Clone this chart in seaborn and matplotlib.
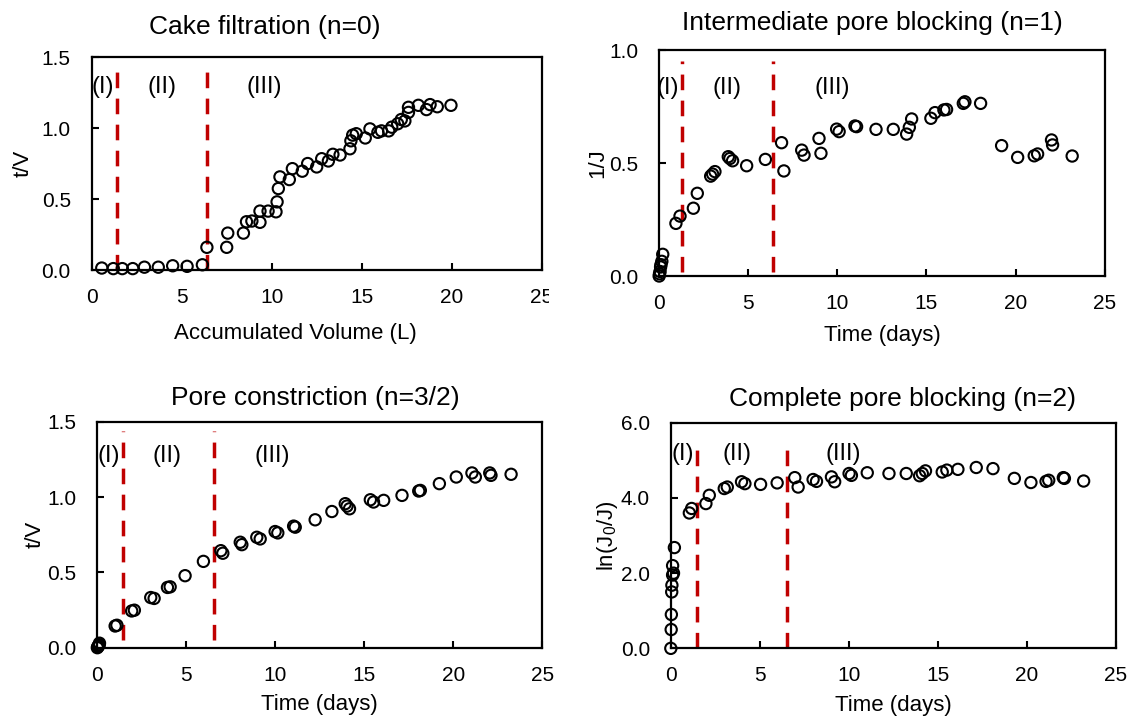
import numpy as np
import pandas as pd
import matplotlib
matplotlib.use("Agg")
import matplotlib.pyplot as plt
from matplotlib.transforms import Bbox, TransformedBbox
import seaborn as sns

# ---------------- data ----------------
# Panel 1: Cake filtration (n=0)
cake_x = [0.56, 1.2, 1.7, 2.28, 2.93, 3.7, 4.5, 5.3, 6.15, 6.4, 7.5, 7.56, 8.43, 8.6, 8.9,
          9.35, 9.35, 9.8, 10.24, 10.3, 10.37, 10.46, 10.98, 11.15, 11.7, 12.0, 12.5, 12.78,
          13.15, 13.4, 13.8, 14.35, 14.4, 14.5, 14.7, 15.2, 15.46, 15.9, 16.1, 16.5, 16.67,
          17.0, 17.2, 17.4, 17.6, 17.6, 18.15, 18.6, 18.8, 19.2, 19.96]
cake_y = [0.014, 0.01, 0.01, 0.01, 0.02, 0.02, 0.03, 0.026, 0.037, 0.16, 0.16, 0.26, 0.26,
          0.34, 0.345, 0.336, 0.415, 0.415, 0.41, 0.48, 0.574, 0.656, 0.637, 0.714, 0.696,
          0.75, 0.726, 0.784, 0.768, 0.815, 0.81, 0.854, 0.91, 0.95, 0.96, 0.93, 0.994, 0.97,
          0.98, 0.98, 1.006, 1.03, 1.06, 1.05, 1.11, 1.146, 1.16, 1.13, 1.165, 1.15, 1.16]

# Panel 2: Intermediate pore blocking (n=1)
inter_x = [0.0, 0.02, 0.05, 0.08, 0.1, 0.15, 0.2, 0.94, 1.17, 1.92, 2.14, 2.89, 3.0, 3.13,
           3.88, 3.97, 4.12, 4.91, 5.96, 6.87, 7.0, 8.0, 8.13, 8.97, 9.08, 9.96, 10.1, 10.99,
           11.08, 12.17, 13.14, 13.89, 14.04, 14.17, 15.25, 15.48, 15.98, 16.13, 17.07,
           17.16, 18.04, 19.22, 20.12, 21.05, 21.24, 22.02, 22.08, 23.18]
inter_y = [0.0, 0.01, 0.02, 0.04, 0.05, 0.065, 0.096, 0.233, 0.265, 0.30, 0.366, 0.442,
           0.451, 0.462, 0.528, 0.52, 0.51, 0.488, 0.516, 0.59, 0.465, 0.557, 0.535, 0.609,
           0.543, 0.65, 0.639, 0.664, 0.661, 0.649, 0.649, 0.628, 0.658, 0.695, 0.698, 0.723,
           0.735, 0.737, 0.764, 0.771, 0.764, 0.577, 0.525, 0.532, 0.54, 0.602, 0.58, 0.531]

# Panel 3: Pore constriction (n=3/2)
const_x = [0.0, 0.02, 0.05, 0.08, 0.1, 0.12, 1.0, 1.1, 1.93, 2.08, 3.0, 3.19, 3.94, 4.09,
           4.93, 5.96, 6.94, 7.05, 8.03, 8.12, 8.96, 9.15, 9.99, 10.14, 11.03, 11.12, 12.24,
           13.18, 13.93, 14.03, 14.17, 15.34, 15.52, 16.09, 17.12, 18.06, 18.15, 19.22,
           20.17, 21.05, 21.24, 22.05, 22.12, 23.25]
const_y = [0.0, 0.005, 0.01, 0.015, 0.02, 0.03, 0.144, 0.149, 0.244, 0.249, 0.333, 0.327,
           0.40, 0.404, 0.478, 0.573, 0.644, 0.627, 0.70, 0.684, 0.733, 0.722, 0.771, 0.762,
           0.807, 0.80, 0.849, 0.904, 0.956, 0.94, 0.922, 0.982, 0.967, 0.978, 1.011, 1.04,
           1.044, 1.089, 1.133, 1.16, 1.133, 1.16, 1.144, 1.151]

# Panel 4: Complete pore blocking (n=2)
comp_x = [0.0, 0.02, 0.03, 0.05, 0.06, 0.1, 0.15, 0.1, 0.2, 1.04, 1.17, 1.97, 2.16, 3.0,
          3.17, 3.97, 4.16, 5.04, 5.97, 6.96, 7.15, 7.99, 8.18, 9.02, 9.2, 10.01, 10.14,
          11.03, 12.25, 13.22, 13.97, 14.12, 14.3, 15.24, 15.5, 16.12, 17.15, 18.09, 19.29,
          20.22, 21.07, 21.22, 22.04, 22.1, 23.18]
comp_y = [0.0, 0.5, 0.9, 1.5, 1.68, 1.95, 2.0, 2.2, 2.68, 3.6, 3.72, 3.85, 4.07, 4.25, 4.29,
          4.43, 4.38, 4.36, 4.40, 4.54, 4.29, 4.49, 4.44, 4.56, 4.43, 4.65, 4.60, 4.67, 4.65,
          4.65, 4.59, 4.65, 4.72, 4.69, 4.74, 4.76, 4.81, 4.78, 4.52, 4.41, 4.44, 4.47, 4.54,
          4.52, 4.45]

titles = ["Cake filtration (n=0)", "Intermediate pore blocking (n=1)",
          "Pore constriction (n=3/2)", "Complete pore blocking (n=2)"]
xlabels = ["Accumulated Volume (L)", "Time (days)", "Time (days)", "Time (days)"]
ylabels = ["t/V", "1/J", "t/V", "ln(J$_0$/J)"]
region_labels = ["(I)", "(II)", "(III)"]

# stage boundaries (x) and region label x-positions per panel
boundaries = [[1.43, 6.43], [1.26, 6.4], [1.43, 6.53], [1.45, 6.5]]
boundary_y = [[0.0, 1.46], [0.02, 0.95], [0.05, 1.44], [0.0, 5.53]]
label_x = [[0.63, 3.9, 9.6], [0.5, 3.8, 9.7], [0.62, 3.94, 9.81], [0.67, 3.73, 9.71]]
label_y = [1.29, 0.83, 1.27, 5.18]

ylims = [(0, 1.5), (0, 1.0), (0, 1.5), (0, 6.0)]
yticks = [[0.0, 0.5, 1.0, 1.5], [0.0, 0.5, 1.0], [0.0, 0.5, 1.0, 1.5], [0.0, 2.0, 4.0, 6.0]]
xticks = [0, 5, 10, 15, 20, 25]

# ---------------- style ----------------
sns.set_theme(style="white")
plt.rcParams["font.family"] = ["Liberation Sans", "DejaVu Sans"]
plt.rcParams["mathtext.default"] = "regular"
plt.rcParams["text.color"] = "black"
plt.rcParams["axes.labelcolor"] = "black"
plt.rcParams["xtick.color"] = "black"
plt.rcParams["ytick.color"] = "black"

fig = plt.figure(figsize=(11.32, 7.22), dpi=100)

# axes positions [left, bottom, width, height] in figure fractions
positions = [
    [0.0810, 0.6260, 0.3975, 0.2950],
    [0.5823, 0.6177, 0.3935, 0.3130],
    [0.0860, 0.1029, 0.3930, 0.3130],
    [0.5926, 0.1020, 0.3933, 0.3125],
]
title_pos = [(0.385, 1.108), (0.478, 1.088), (0.49, 1.074), (0.52, 1.074)]
xlabel_pos = [(0.452, -0.296), (0.5, -0.261), (0.5, -0.252), (0.5, -0.253)]
ylabel_pos = [(-0.153, 0.5), (-0.137, 0.5), (-0.139, 0.5), (-0.142, 0.5)]

datasets = [(cake_x, cake_y), (inter_x, inter_y), (const_x, const_y), (comp_x, comp_y)]
red = "#C00000"

for i, (xs, ys) in enumerate(datasets):
    ax = fig.add_axes(positions[i])
    df = pd.DataFrame({"x": xs, "y": ys})
    sns.scatterplot(data=df, x="x", y="y", ax=ax, marker="o", s=66,
                    facecolors="none", edgecolor="black", linewidth=1.5,
                    clip_on=False, zorder=3)
    ax.vlines(boundaries[i], boundary_y[i][0], boundary_y[i][1], colors=red,
              linewidth=2.5, linestyles=(0, (4.5, 3.0)), zorder=2)
    for lx, lab in zip(label_x[i], region_labels):
        ax.text(lx, label_y[i], lab, ha="center", va="center", fontsize=17,
                color="black")
    ax.set_xlim(0, 25)
    ax.set_ylim(*ylims[i])
    ax.set_xticks(xticks)
    ax.set_yticks(yticks[i])
    ax.set_xticklabels([str(t) for t in xticks])
    ax.set_yticklabels([f"{t:.1f}" for t in yticks[i]])
    ax.tick_params(axis="x", direction="in", length=5, width=1.5, labelsize=15,
                   colors="black", pad=13, bottom=True, top=False)
    ax.tick_params(axis="y", direction="in", length=5, width=1.5, labelsize=15,
                   colors="black", pad=15, left=True, right=False)
    for sp in ax.spines.values():
        sp.set_visible(True)
        sp.set_color("black")
        sp.set_linewidth(1.6)
    ax.set_xlabel(xlabels[i], fontsize=16, va="center")
    ax.set_ylabel(ylabels[i], fontsize=16, va="center")
    ax.xaxis.set_label_coords(*xlabel_pos[i])
    ax.yaxis.set_label_coords(*ylabel_pos[i])
    ax.text(title_pos[i][0], title_pos[i][1], titles[i], transform=ax.transAxes,
            ha="center", va="baseline", fontsize=19)
    ax.grid(False)
    if i == 0:
        # the "25" label of the first panel is cut off at the right in the original
        clip = TransformedBbox(Bbox([[0, 0], [549 / 1132, 1]]), fig.transFigure)
        for t in ax.xaxis.get_major_ticks():
            t.label1.set_clip_on(True)
            t.label1.set_clip_box(clip)

fig.savefig("out.png", dpi=100, facecolor="white")
